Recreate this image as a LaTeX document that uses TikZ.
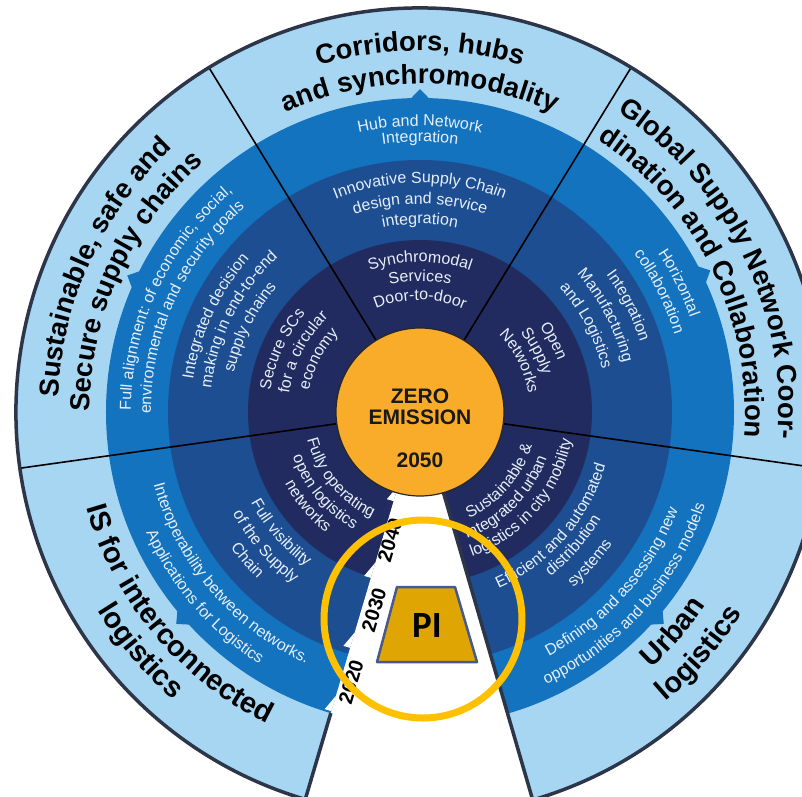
\documentclass[tikz,border=0pt]{standalone}
\usepackage{fontspec}
\setmainfont{Liberation Sans}
\newfontfamily\pifont{Carlito}
\usetikzlibrary{calc,decorations.text}

\definecolor{ringlight}{HTML}{A6D6F2}
\definecolor{ringmid}{HTML}{1473BE}
\definecolor{ringdark}{HTML}{1C4E91}
\definecolor{ringnavy}{HTML}{212B5F}
\definecolor{ringtext}{HTML}{E6EEF8}
\definecolor{zeroorange}{HTML}{F9AC29}
\definecolor{rimline}{HTML}{2D3548}
\definecolor{pigold}{HTML}{DFA603}
\definecolor{piedge}{HTML}{465A8C}
\definecolor{focusring}{HTML}{FFC000}

\newcommand\titlesize{\fontsize{27.5}{32}\selectfont\bfseries}
\newcommand\lowtitlesize{\fontsize{29}{33}\selectfont\bfseries}
\newcommand\ringsize{\fontsize{16}{19}\selectfont}

% text on an arc round the wheel centre: radius, middle angle, text
\newcommand\titlecw[3]{\path[decorate,decoration={text along path,text align=center,text color=black,
  text={|\titlesize|#3}}] ({#2+85}:#1) arc[start angle={#2+85},end angle={#2-85},radius=#1];}
\newcommand\titleccw[3]{\path[decorate,decoration={text along path,text align=center,text color=black,
  text={|\lowtitlesize|#3}}] ({#2-85}:#1) arc[start angle={#2-85},end angle={#2+85},radius=#1];}
\newcommand\ringcw[3]{\path[decorate,decoration={text along path,text align=center,text color=ringtext,
  text={|\ringsize|#3}}] ({#2+85}:#1) arc[start angle={#2+85},end angle={#2-85},radius=#1];}
\newcommand\ringccw[3]{\path[decorate,decoration={text along path,text align=center,text color=ringtext,
  text={|\ringsize|#3}}] ({#2-85}:#1) arc[start angle={#2-85},end angle={#2+85},radius=#1];}

\tikzset{
  divider/.style={black, line width=1.6pt},
  rim/.style={rimline, line width=3.5pt, line join=round},
  zerodisc/.style={fill=zeroorange, draw=black!85, line width=1.2pt},
  zerotext/.style={font=\fontsize{21}{24}\selectfont\bfseries, text=black!90, inner sep=0pt, anchor=base},
  yearlabel/.style={font=\fontsize{20}{22}\selectfont\bfseries, text=black, inner sep=0pt, rotate=73.5},
  pibox/.style={fill=pigold, draw=piedge, line width=2.5pt, line join=round},
  pilabel/.style={font=\pifont\fontsize{37}{40}\selectfont\bfseries, text=black, inner sep=0pt},
  focus/.style={draw=focusring, line width=7pt},
}

\begin{document}
\begin{tikzpicture}[x=1pt,y=1pt]
  % canvas, wheel centre at the origin
  \fill[white] (-420,-384) rectangle (382,412);
  \clip (-420,-384) rectangle (382,412);

  % rings
  \fill[ringlight] (0,0) circle[radius=404];
  \fill[ringmid] (0,0) circle[radius=314];
  \foreach \a in {90,155,26,221,-41}
    \fill[ringmid] ({\a-1.8}:313) -- (\a:323) -- ({\a+1.8}:313) -- cycle;
  \fill[ringdark] (0,0) circle[radius=252];
  \fill[ringnavy] (0,0) circle[radius=172];

  % time line cut out of the wheel
  \fill[white] (0,0) -- (253.5:520) -- (286.2:520) -- cycle;
  \foreach \r [evaluate=\r as \rin using \r-16] in {93,173,246,312}
    \fill[white] (253.5:\rin) -- ($(253.5:\r)+(163.5:7)$) -- (253.5:\r) -- cycle;

  % segment borders
  \foreach \a in {121.5,58.5,-8,188}
    \draw[divider] (\a:84) -- (\a:404);
  \draw[rim] (253.5:314) -- (253.5:404) arc[start angle=253.5,end angle=-73.8,radius=404] -- (286.2:84);

  % centre
  \draw[zerodisc] (0,0) circle[radius=84];
  \node[zerotext] (zero) at (0,8.5) {ZERO};
  \node[zerotext] (emission) at (0,-12.5) {EMISSION};
  \node[zerotext] (target) at (0,-55.5) {2050};

  % segment titles
  \titlecw{361}{90}{Corridors, hubs}
  \titlecw{328}{90}{and synchromodality}
  \titlecw{362}{155.4}{Sustainable, safe and}
  \titlecw{330}{155.4}{Secure supply chains}
  \titlecw{359}{26.2}{Global Supply Network Coor-}
  \titlecw{325}{26.2}{dination and Collaboration}
  \titleccw{347}{220}{IS for interconnected}
  \titleccw{379}{220.5}{logistics}
  \titleccw{345}{-41}{Urban}
  \titleccw{380}{-40.8}{logistics}

  % top segment
  \ringcw{286}{90}{Hub and Network}
  \ringcw{270}{90}{Integration}
  \ringcw{229}{90}{Innovative Supply Chain}
  \ringcw{208}{90}{design and service}
  \ringcw{188}{90}{integration}
  \ringcw{150}{90}{Synchromodal}
  \ringcw{131}{90}{Services}
  \ringcw{112}{90}{Door-to-door}

  % left segment
  \ringcw{289}{155}{Full alignment: of economic, social,}
  \ringcw{269}{155.5}{environmental and security goals}
  \ringcw{229}{155}{Integrated decision}
  \ringcw{210}{153}{making in end-to-end}
  \ringcw{190}{153.5}{supply chains}
  \ringcw{151}{155.5}{Secure SCs}
  \ringcw{132}{153}{for a circular}
  \ringcw{113}{152.5}{economy}

  % right segment
  \ringcw{286}{26.5}{Horizontal}
  \ringcw{266}{26.7}{collaboration}
  \ringcw{231}{27}{Integration}
  \ringcw{209}{27.5}{Manufacturing}
  \ringcw{187}{27.5}{and Logistics}
  \ringcw{147}{28}{Open}
  \ringcw{128}{27.5}{Supply}
  \ringcw{110}{27}{Networks}

  % bottom left segment
  \ringccw{116}{219.6}{Fully operating}
  \ringccw{135}{220}{open logistics}
  \ringccw{153}{220}{networks}
  \ringccw{192}{221}{Full visibility}
  \ringccw{213}{221}{of the Supply}
  \ringccw{233}{220.7}{Chain}
  \ringccw{276}{220.4}{Interoperability between networks.}
  \ringccw{299}{220.6}{Applications for Logistics}

  % bottom right segment
  \ringccw{117}{-41}{Sustainable {\&}}
  \ringccw{135}{-44.8}{Integrated urban}
  \ringccw{154}{-40.3}{logistics in city mobility}
  \ringccw{193}{-41}{Efficient and automated}
  \ringccw{210}{-41}{distribution}
  \ringccw{233}{-41.6}{systems}
  \ringccw{276}{-41.5}{Defining and assessing new}
  \ringccw{300}{-41.6}{opportunities and business models}

  % PI on the time line
  \draw[pibox] (-23,-175) -- (35,-175) -- (57,-250) -- (-43,-250) -- cycle;
  \node[pilabel] (pi) at (7,-213) {PI};
  \node[yearlabel] (y2040) at (-30,-128) {2040};
  \node[yearlabel] (y2030) at (-46,-198) {2030};
  \node[yearlabel] (y2020) at (-69,-270) {2020};
  \draw[focus] (3,-207) circle[radius=99];
\end{tikzpicture}
\end{document}
